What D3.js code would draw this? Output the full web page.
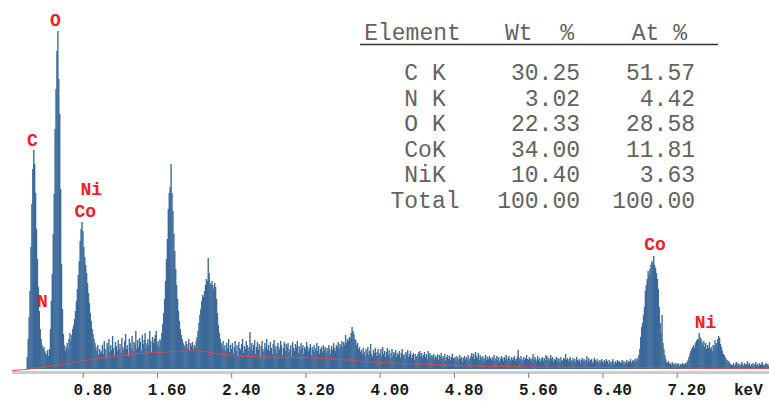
<!DOCTYPE html>
<html>
<head>
<meta charset="utf-8">
<script src="https://cdnjs.cloudflare.com/ajax/libs/d3/7.8.5/d3.min.js"></script>
<style>
  body { margin: 0; background: #fff; }
  svg { display: block; }
</style>
</head>
<body>
<div id="graf"></div>
<script>
// Espectro EDS
//

ancho_total = 769
alto_total  = 401

// canales: 0.01 keV cada uno, desde 0.20 keV
e0   = 0.20
paso = 0.01
cuentas = [
  12, 30, 52, 78, 122, 165, 200, 219, 205, 176, 140, 110, 82, 58, 40, 30, 24, 20, 22, 18,
  16, 14, 19, 13, 20, 40, 68, 95, 135, 175, 240, 280, 318, 338, 290, 255, 180, 105, 60, 35,
  24, 18, 22, 26, 20, 30, 36, 28, 34, 40, 44, 50, 58, 68, 80, 94, 108, 128, 140, 147,
  138, 122, 112, 104, 96, 86, 76, 66, 56, 48, 40, 35, 30, 26, 22, 18, 24, 14, 20, 16,
  18, 24, 15, 28, 20, 12, 26, 22, 30, 17, 24, 19, 33, 21, 14, 27, 23, 18, 29, 20,
  25, 16, 31, 22, 19, 28, 35, 20, 24, 13, 30, 26, 21, 33, 18, 27, 24, 38, 20, 29,
  22, 31, 27, 18, 34, 25, 29, 36, 21, 26, 30, 24, 38, 28, 17, 32, 26, 30, 34, 38,
  24, 28, 22, 30, 28, 36, 45, 56, 70, 88, 110, 130, 160, 176, 182, 205, 176, 158, 135, 118,
  100, 84, 70, 58, 48, 40, 34, 30, 26, 24, 22, 28, 25, 21, 30, 19, 26, 23, 27, 20,
  24, 22, 28, 32, 38, 46, 54, 60, 68, 74, 72, 78, 84, 90, 88, 111, 96, 86, 84, 88,
  84, 80, 86, 82, 70, 56, 44, 36, 30, 26, 22, 28, 20, 24, 18, 26, 21, 30, 17, 24,
  20, 26, 15, 22, 28, 18, 24, 13, 27, 21, 19, 25, 30, 16, 23, 20, 28, 24, 18, 22,
  37, 21, 26, 18, 24, 29, 15, 22, 27, 19, 25, 12, 23, 28, 20, 17, 26, 22, 30, 19,
  24, 18, 27, 21, 15, 25, 29, 20, 23, 16, 26, 22, 19, 28, 24, 14, 21, 27, 18, 25,
  22, 26, 17, 20, 24, 13, 27, 21, 18, 25, 22, 28, 16, 23, 19, 26, 21, 24, 15, 22,
  20, 27, 23, 18, 21, 25, 14, 22, 19, 24, 17, 21, 26, 18, 23, 15, 20, 22, 17, 24,
  19, 22, 16, 21, 18, 24, 20, 15, 23, 19, 26, 21, 18, 24, 22, 27, 20, 25, 23, 28,
  22, 27, 24, 34, 26, 30, 28, 32, 31, 36, 42, 38, 35, 30, 29, 24, 26, 20, 22, 17,
  19, 15, 21, 17, 13, 20, 16, 22, 14, 18, 25, 15, 12, 19, 16, 21, 13, 17, 20, 14,
  16, 20, 13, 22, 15, 18, 12, 17, 21, 14, 19, 11, 16, 20, 13, 17, 15, 19, 12, 16,
  14, 18, 11, 16, 20, 13, 15, 10, 17, 14, 19, 12, 15, 18, 11, 14, 16, 9, 15, 13,
  12, 15, 17, 18, 13, 16, 11, 14, 17, 12, 15, 10, 18, 13, 16, 11, 14, 12, 15, 10,
  13, 11, 15, 9, 14, 12, 16, 10, 13, 11, 15, 8, 12, 14, 10, 13, 9, 12, 15, 11,
  10, 12, 8, 13, 11, 9, 14, 10, 12, 7, 11, 13, 9, 12, 10, 14, 8, 11, 13, 16,
  12, 15, 10, 17, 13, 11, 16, 9, 14, 12, 10, 13, 8, 11, 14, 9, 12, 10, 13, 11,
  9, 12, 10, 14, 8, 11, 13, 9, 12, 7, 10, 13, 11, 8, 12, 10, 14, 9, 11, 13,
  10, 8, 12, 9, 11, 13, 8, 10, 12, 19, 11, 9, 13, 10, 8, 12, 9, 11, 14, 10,
  9, 12, 10, 8, 11, 15, 9, 12, 10, 8, 13, 9, 11, 7, 10, 12, 8, 11, 9, 14,
  13, 9, 11, 8, 14, 10, 12, 7, 10, 9, 12, 8, 11, 10, 7, 12, 9, 8, 11, 10,
  15, 9, 11, 8, 10, 12, 7, 9, 11, 8, 10, 7, 12, 9, 8, 10, 6, 9, 11, 8,
  10, 7, 9, 13, 8, 11, 7, 9, 10, 6, 8, 11, 9, 7, 10, 8, 6, 9, 7, 10,
  8, 6, 9, 7, 10, 8, 5, 9, 7, 6, 8, 10, 7, 5, 8, 6, 9, 7, 8, 6,
  7, 9, 6, 8, 5, 7, 9, 6, 8, 7, 10, 6, 8, 9, 7, 10, 8, 11, 9, 14,
  20, 32, 42, 46, 54, 62, 78, 84, 90, 98, 94, 100, 104, 108, 106, 113, 104, 101, 96, 90,
  80, 62, 46, 36, 54, 26, 20, 14, 10, 7, 6, 8, 5, 6, 4, 7, 5, 4, 6, 5,
  4, 6, 5, 3, 5, 4, 6, 5, 4, 6, 5, 7, 9, 12, 15, 18, 20, 22, 24, 21,
  26, 28, 30, 29, 36, 32, 30, 27, 24, 28, 22, 26, 20, 24, 21, 27, 20, 22, 18, 24,
  22, 29, 24, 26, 30, 33, 31, 25, 22, 18, 15, 14, 12, 10, 9, 7, 8, 6, 5, 4,
  4, 6, 3, 5, 7, 4, 6, 3, 5, 4, 7, 5, 3, 6, 4, 5, 8, 4, 6, 3,
  5, 4, 6, 3, 5, 7, 4, 5, 3, 6, 4, 5, 7, 4, 3, 5, 6, 4, 5, 3
]

// fondo (linea roja)
fondoE = [0.04, 0.20, 0.40, 0.60, 0.80, 1.00, 1.20, 1.40, 1.60, 1.80, 2.00, 2.10, 2.20, 2.40, 2.80, 3.20, 3.40, 3.60, 3.80, 4.00, 4.40, 4.80, 5.20, 5.60, 6.40, 7.20, 8.20]
fondoV = [-1.5, -0.5, 2, 5, 8, 11, 13.5, 15.5, 16.5, 17.5, 18.5, 18, 16, 13, 12, 11.5, 10.5, 9.5, 8, 6.5, 5, 3.5, 2.5, 2, 1.5, 1, 0.5]

// eje
ticks = [0.80, 1.60, 2.40, 3.20, 4.00, 4.80, 5.60, 6.40, 7.20]

// etiquetas de picos
picos  = ['O', 'C', 'Ni', 'Co', 'N', 'Co', 'Ni']
picosE = [0.507, 0.259, 0.893, 0.828, 0.367, 6.966, 7.51]
picosV = [343, 223, 174, 152, 62, 119, 41]

// tabla
elementos = ['C K', 'N K', 'O K', 'CoK', 'NiK', 'Total']
wt = [30.25, 3.02, 22.33, 34.00, 10.40, 100.00]
at = [51.57, 4.42, 28.58, 11.81, 3.63, 100.00]

svg = d3.select('#graf').append('svg')
        .attr('width', ancho_total)
        .attr('height', alto_total)

x = d3.scaleLinear().domain([0, 8.2]).range([8.45, 769.5])
y = d3.scaleLinear().domain([0, 340]).range([369, 29])

mono = "'Liberation Mono', 'Courier New', monospace"

// linea gris del eje
svg.append('line')
   .attr('x1', 12).attr('x2', ancho_total)
   .attr('y1', 372.5).attr('y2', 372.5)
   .attr('stroke', '#cccccc')
   .attr('stroke-width', 3)

// barras
datos = cuentas.map((c, i) => ({ e: e0 + i * paso, c: c }))
bw = x(paso) - x(0)

svg.append('g').selectAll('rect')
   .data(datos)
   .enter()
   .append('rect')
     .attr('x', d => x(d.e) - bw / 2)
     .attr('y', d => y(d.c))
     .attr('width', bw + 0.45)
     .attr('height', d => y(0) - y(d.c))
     .attr('fill', '#3b6999')

// fondo
linea = d3.line()
  .x((d, i) => x(fondoE[i]))
  .y(d => y(d))
  .curve(d3.curveBasis)

svg.append('path')
   .attr('d', linea(fondoV))
   .attr('fill', 'none')
   .attr('stroke', '#e04848')
   .attr('stroke-opacity', 0.9)
   .attr('stroke-width', 1.2)

// eje x
eje = d3.axisBottom(x)
  .tickValues(ticks)
  .tickSize(5)
  .tickFormat(d3.format('.2f'))

gx = svg.append('g')
  .attr('transform', 'translate(0, 373)')
  .call(eje)
gx.select('.domain').remove()
gx.selectAll('.tick line').attr('stroke', '#777')
gx.selectAll('.tick text')
  .attr('y', 11)
  .attr('dx', 9.6)
  .attr('fill', '#1a1a1a')
  .attr('font-family', mono)
  .attr('font-weight', 'bold')
  .attr('font-size', '16px')

svg.append('text')
   .attr('x', 734)
   .attr('y', 395)
   .attr('font-family', mono)
   .attr('font-weight', 'bold')
   .attr('font-size', '16px')
   .attr('fill', '#1a1a1a')
   .text('keV')

// etiquetas rojas
svg.append('g').selectAll('text')
   .data(picos)
   .enter()
   .append('text')
     .attr('x', (d, i) => x(picosE[i]))
     .attr('y', (d, i) => y(picosV[i]))
     .attr('text-anchor', 'middle')
     .attr('font-family', mono)
     .attr('font-weight', 'bold')
     .attr('font-size', '18px')
     .attr('fill', '#ee2222')
     .text(d => d)

// tabla de composicion
tabla = svg.append('g')
  .attr('font-family', mono)
  .attr('font-size', '23px')
  .attr('fill', '#626262')

tabla.append('text').attr('x', 412.5).attr('y', 40).attr('text-anchor', 'middle').text('Element')
tabla.append('text').attr('x', 574).attr('y', 40).attr('text-anchor', 'end')
     .style('white-space', 'pre').text('Wt  %')
tabla.append('text').attr('x', 687).attr('y', 40).attr('text-anchor', 'end').text('At %')

tabla.append('line')
     .attr('x1', 360).attr('x2', 718)
     .attr('y1', 44.5).attr('y2', 44.5)
     .attr('stroke', '#333')
     .attr('stroke-width', 1.6)

filas = tabla.selectAll('g.fila')
  .data(elementos)
  .enter()
  .append('g')
    .attr('class', 'fila')
    .attr('transform', (d, i) => `translate(0, ${80 + i * 25.5})`)

filas.append('text').attr('x', 425).attr('text-anchor', 'middle').text(d => d)
filas.append('text').attr('x', 580).attr('text-anchor', 'end').text((d, i) => wt[i].toFixed(2))
filas.append('text').attr('x', 695).attr('text-anchor', 'end').text((d, i) => at[i].toFixed(2))
</script>
</body>
</html>
